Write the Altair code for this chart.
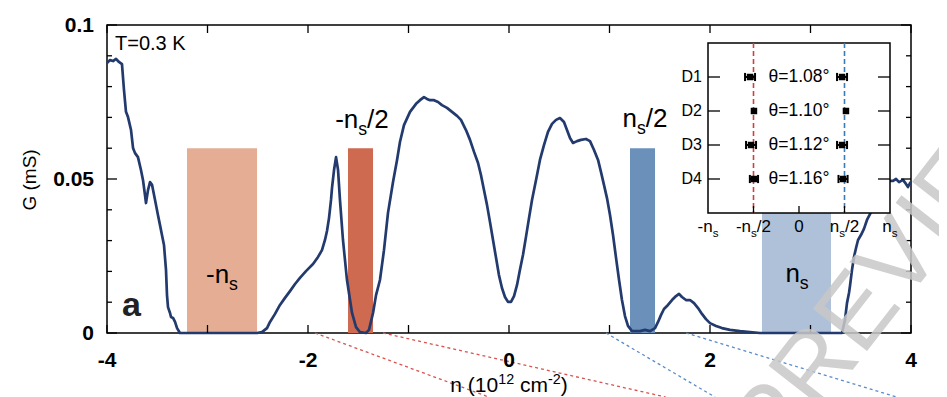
import altair as alt
import pandas as pd

FONT = "Liberation Sans"
NAVY = "#233A6E"

# ---------------- main trace G(n), three stretches ----------------
n_left = [-4.000, -3.970, -3.940, -3.910, -3.881, -3.851, -3.831, -3.811, -3.791, -3.761,
          -3.741, -3.721, -3.692, -3.662, -3.642, -3.622, -3.612, -3.592, -3.572, -3.552,
          -3.522, -3.493, -3.473, -3.453, -3.433, -3.413, -3.403, -3.393, -3.373, -3.363,
          -3.343, -3.323, -3.303, -3.274]
g_left = [0.0877, 0.0886, 0.0883, 0.0890, 0.0880, 0.0873, 0.0789, 0.0718, 0.0701, 0.0659,
          0.0601, 0.0584, 0.0571, 0.0529, 0.0497, 0.0448, 0.0422, 0.0464, 0.0490, 0.0481,
          0.0432, 0.0383, 0.0351, 0.0318, 0.0286, 0.0205, 0.0123, 0.0084, 0.0065, 0.0052,
          0.0049, 0.0036, 0.0016, 0.0]
n_mid = [-2.507, -2.458, -2.408, -2.378, -2.328, -2.279, -2.229, -2.179, -2.129, -2.080,
         -2.020, -1.950, -1.900, -1.861, -1.831, -1.811, -1.791, -1.771, -1.761, -1.741,
         -1.721, -1.701, -1.682, -1.652, -1.612, -1.562, -1.522, -1.483, -1.423, -1.393,
         -1.353, -1.323, -1.284, -1.244, -1.204, -1.154, -1.114, -1.085, -1.045, -0.985,
         -0.925, -0.886, -0.846, -0.816, -0.786, -0.746, -0.706, -0.667, -0.617, -0.567,
         -0.517, -0.478, -0.428, -0.388, -0.348, -0.308, -0.279, -0.249, -0.219, -0.189,
         -0.159, -0.129, -0.100, -0.070, -0.040, -0.010, 0.020, 0.050, 0.080, 0.109,
         0.139, 0.169, 0.199, 0.229, 0.269, 0.308, 0.348, 0.388, 0.428, 0.468,
         0.507, 0.547, 0.577, 0.607, 0.637, 0.677, 0.716, 0.766, 0.806, 0.846,
         0.886, 0.915, 0.945, 0.975, 1.005, 1.035, 1.065, 1.095, 1.124, 1.154,
         1.184, 1.224, 1.303, 1.353, 1.403, 1.453, 1.483, 1.512, 1.542, 1.582,
         1.622, 1.662, 1.692, 1.721, 1.761, 1.801, 1.841, 1.881, 1.920, 1.960,
         2.000, 2.060, 2.119, 2.199, 2.299, 2.398, 2.498]
g_mid = [0.0, 0.0003, 0.0016, 0.0036, 0.0062, 0.0091, 0.0114, 0.0136, 0.0159, 0.0179,
         0.0201, 0.0224, 0.0247, 0.0269, 0.0302, 0.0331, 0.0373, 0.0432, 0.0471, 0.0529,
         0.0571, 0.0529, 0.0432, 0.0302, 0.0172, 0.0065, 0.0019, 0.0003, 0.0, 0.0010,
         0.0065, 0.0123, 0.0172, 0.0269, 0.0390, 0.0490, 0.0562, 0.0620, 0.0675, 0.0718,
         0.0744, 0.0756, 0.0766, 0.0760, 0.0756, 0.0756, 0.0750, 0.0740, 0.0731, 0.0718,
         0.0705, 0.0692, 0.0659, 0.0627, 0.0588, 0.0552, 0.0513, 0.0464, 0.0416, 0.0360,
         0.0302, 0.0244, 0.0188, 0.0146, 0.0117, 0.0101, 0.0101, 0.0120, 0.0156, 0.0205,
         0.0253, 0.0312, 0.0373, 0.0432, 0.0497, 0.0562, 0.0610, 0.0653, 0.0679, 0.0692,
         0.0698, 0.0685, 0.0659, 0.0633, 0.0617, 0.0623, 0.0627, 0.0630, 0.0623, 0.0594,
         0.0562, 0.0523, 0.0481, 0.0438, 0.0383, 0.0318, 0.0244, 0.0172, 0.0107, 0.0055,
         0.0023, 0.0006, 0.0006, 0.0010, 0.0006, 0.0016, 0.0036, 0.0058, 0.0078, 0.0091,
         0.0107, 0.0120, 0.0127, 0.0117, 0.0107, 0.0107, 0.0097, 0.0081, 0.0062, 0.0045,
         0.0032, 0.0023, 0.0016, 0.0010, 0.0006, 0.0003, 0.0]
n_right = [3.313, 3.343, 3.363, 3.383, 3.393, 3.413, 3.433, 3.453, 3.473, 3.502,
           3.532, 3.562, 3.592, 3.622, 3.662, 3.701, 3.741, 3.781, 3.821, 3.851,
           3.881, 3.920, 3.950, 3.970, 3.990, 4.000]
g_right = [0.0, 0.0042, 0.0097, 0.0130, 0.0153, 0.0205, 0.0247, 0.0276, 0.0302, 0.0318,
           0.0338, 0.0367, 0.0386, 0.0406, 0.0432, 0.0458, 0.0477, 0.0494, 0.0494, 0.0500,
           0.0490, 0.0497, 0.0484, 0.0474, 0.0487, 0.0490]

# ---------------- shaded density windows ----------------
bar_start = [-3.204, -1.602, 1.204, 2.517]
bar_end = [-2.507, -1.353, 1.453, 3.204]
bar_top = [0.06, 0.06, 0.06, 0.06]
bar_color = ["#E5AE94", "#CD6A4F", "#6B91BB", "#AFC1D9"]

# labels of the windows: (text, kind) pieces
lab_parts = [[("-n", "n"), ("s", "sub")],
             [("-n", "n"), ("s", "sub"), ("/2", "n")],
             [("n", "n"), ("s", "sub"), ("/2", "n")],
             [("n", "n"), ("s", "sub")]]
lab_n = [-2.856, -1.463, 1.353, 2.866]
lab_g = [0.0162, 0.0666, 0.0670, 0.0166]

# dotted guide lines leaving the bottom axis
guide_n0 = [-1.93, -1.254, 0.965, 1.761]
guide_n1 = [-0.20, 1.56, 2.05, 3.86]
guide_g0 = [0.0, 0.0, 0.0, 0.0]
guide_g1 = [-0.0208, -0.0208, -0.0208, -0.0208]
guide_color = ["#D9534F", "#D9534F", "#5B8CC7", "#5B8CC7"]

# axis ticks and labels
x_ticks = [-4, -3, -2, -1, 0, 1, 2, 3, 4]
x_labels = [-4, -2, 0, 2, 4]
x_label_text = ["-4", "-2", "0", "2", "4"]
y_ticks = [0.0, 0.01, 0.02, 0.03, 0.04, 0.05, 0.06, 0.07, 0.08, 0.09, 0.1]
y_labels = [0.0, 0.05, 0.1]
y_label_text = ["0", "0.05", "0.1"]

# ---------------- inset ----------------
dev_names = ["D1", "D2", "D3", "D4"]
dev_pos = [1, 2, 3, 4]
dev_theta = ["θ=1.08°", "θ=1.10°", "θ=1.12°", "θ=1.16°"]
left_u = [-0.538, -0.495, -0.527, -0.495]
left_err = [0.055, 0.0, 0.055, 0.045]
right_u = [0.473, 0.516, 0.473, 0.484]
right_err = [0.055, 0.0, 0.055, 0.050]
inset_tick_u = [-1.0, -0.5, 0.0, 0.5, 1.0]
inset_tick_parts = [[("-n", "n"), ("s", "sub")],
                    [("-n", "n"), ("s", "sub"), ("/2", "n")],
                    [("0", "n")],
                    [("n", "n"), ("s", "sub"), ("/2", "n")],
                    [("n", "n"), ("s", "sub")]]

# ---------------- scales / helpers ----------------
W, H = 804, 308
PXN = 8.0 / W      # data n per pixel
PXG = 0.1 / H      # data G per pixel
SX = alt.Scale(domain=[-4, 4], nice=False, zero=False)
SY = alt.Scale(domain=[0, 0.1], nice=False, zero=False)
SU = alt.Scale(domain=[-1, 1], range=[601, 783], nice=False, zero=False)
SD = alt.Scale(domain=[0, 5], range=[18, 188], nice=False, zero=False)


def mx(f):
    return alt.X(f"{f}:Q", scale=SX, axis=None)


def my(f):
    return alt.Y(f"{f}:Q", scale=SY, axis=None)


def ux(f):
    return alt.X(f"{f}:Q", scale=SU, axis=None)


def uy(f):
    return alt.Y(f"{f}:Q", scale=SD, axis=None)


CW = {"-": 0.333, "n": 0.556, "s": 0.5, "/": 0.278, "2": 0.556, "0": 0.556, "1": 0.556,
      "(": 0.333, ")": 0.333, " ": 0.278, "c": 0.5, "m": 0.833}


def rich(parts, xv, yv, size, ex, ey, align="center", dy0=0.0):
    items = []
    for t, k in parts:
        s = size if k == "n" else round(size * 0.68, 1)
        lead = len(t) - len(t.lstrip(" "))
        body = t.lstrip(" ")
        items.append((body, k, s, lead * CW[" "] * s, sum(CW.get(c, 0.556) for c in body) * s))
    total = sum(i[3] + i[4] for i in items)
    x = -total / 2 if align == "center" else 0.0
    out = []
    for t, k, s, pre, w in items:
        x += pre
        dy = dy0 + (0.27 * size if k == "sub" else (-0.40 * size if k == "sup" else 0.0))
        df = pd.DataFrame({"a": [xv], "b": [yv], "txt": [t]})
        out.append(alt.Chart(df).mark_text(align="left", baseline="alphabetic", dx=x, dy=dy,
                                           fontSize=s, font=FONT, color="black")
                   .encode(x=ex("a"), y=ey("b"), text="txt:N"))
        x += w
    return out


# ---------------- main layers ----------------
curve_df = pd.DataFrame({"n": n_left + n_mid + n_right, "G": g_left + g_mid + g_right})
bars_df = pd.DataFrame({"n0": bar_start, "n1": bar_end, "g0": [0.0] * 4, "g1": bar_top, "c": bar_color})
guide_df = pd.DataFrame({"n0": guide_n0, "n1": guide_n1, "g0": guide_g0, "g1": guide_g1, "c": guide_color})

tick_rows = []
for v in x_ticks:
    tick_rows.append((v, 0.0, v, 8 * PXG))
    tick_rows.append((v, 0.1, v, 0.1 - 8 * PXG))
for v in y_ticks:
    L = 10 if round(v * 100) % 5 == 0 else 5
    tick_rows.append((-4, v, -4 + L * PXN, v))
    tick_rows.append((4, v, 4 - L * PXN, v))
ticks_df = pd.DataFrame(tick_rows, columns=["n0", "g0", "n1", "g1"])

bars = alt.Chart(bars_df).mark_rect().encode(
    x=mx("n0"), x2="n1", y=my("g0"), y2="g1", color=alt.Color("c:N", scale=None))
guides = alt.Chart(guide_df).mark_rule(strokeDash=[3, 3], strokeWidth=1.3).encode(
    x=mx("n0"), x2="n1", y=my("g0"), y2="g1", color=alt.Color("c:N", scale=None))
ticks = alt.Chart(ticks_df).mark_rule(color="black", strokeWidth=1.3).encode(
    x=mx("n0"), x2="n1", y=my("g0"), y2="g1")
curve = alt.Chart(curve_df).mark_line(color=NAVY, strokeWidth=2.7, strokeJoin="round").encode(
    x=mx("n"), y=my("G"))

xlab_df = pd.DataFrame({"n": x_labels, "G": [0.0] * len(x_labels), "t": x_label_text})
xlabs = alt.Chart(xlab_df).mark_text(align="center", baseline="top", dy=17, fontSize=21,
                                     fontWeight="bold", font=FONT, color="black").encode(
    x=mx("n"), y=my("G"), text="t:N")
ylab_df = pd.DataFrame({"n": [-4.0] * len(y_labels), "G": y_labels, "t": y_label_text})
ylabs = alt.Chart(ylab_df).mark_text(align="right", baseline="middle", dx=-13, dy=1, fontSize=21,
                                     fontWeight="bold", font=FONT, color="black").encode(
    x=mx("n"), y=my("G"), text="t:N")

temp = alt.Chart(pd.DataFrame({"n": [-3.92], "G": [0.0919], "t": ["T=0.3 K"]})).mark_text(
    align="left", baseline="alphabetic", fontSize=20, font=FONT, color="black").encode(
    x=mx("n"), y=my("G"), text="t:N")
panel = alt.Chart(pd.DataFrame({"n": [-3.85], "G": [0.0055], "t": ["a"]})).mark_text(
    align="left", baseline="alphabetic", fontSize=34, fontWeight="bold", font=FONT, color="#222").encode(
    x=mx("n"), y=my("G"), text="t:N")
ytitle = alt.Chart(pd.DataFrame({"n": [-4.766], "G": [0.0497], "t": ["G (mS)"]})).mark_text(
    align="center", baseline="middle", angle=270, fontSize=19, font=FONT, color="black").encode(
    x=mx("n"), y=my("G"), text="t:N")

main_layers = [bars, guides, curve, ticks, xlabs, ylabs, temp, panel, ytitle]
for parts, nv, gv in zip(lab_parts, lab_n, lab_g):
    main_layers += rich(parts, nv, gv, 26, mx, my)
main_layers += rich([("n (10", "n"), ("12", "sup"), (" cm", "n"), ("-2", "sup"), (")", "n")],
                    0.0, -0.0193, 21, mx, my)
main = alt.layer(*main_layers)

# ---------------- inset layers ----------------
frame = alt.Chart(pd.DataFrame({"u0": [-1.0], "u1": [1.0], "d0": [0.0], "d1": [5.0]})).mark_rect(
    fill="white", stroke="black", strokeWidth=1.5).encode(x=ux("u0"), x2="u1", y=uy("d0"), y2="d1")
dash_df = pd.DataFrame({"u": [-0.5, 0.5], "d0": [0.0, 0.0], "d1": [5.0, 5.0], "c": ["#D0403A", "#3A7CB8"]})
dashes = alt.Chart(dash_df).mark_rule(strokeDash=[5, 3], strokeWidth=1.6).encode(
    x=ux("u"), y=uy("d0"), y2="d1", color=alt.Color("c:N", scale=None))

itick_rows = []
for d in dev_pos:
    itick_rows.append((-1.0, d, -1.0 + 12 / 91.0, d))
    itick_rows.append((1.0, d, 1.0 - 12 / 91.0, d))
for u in [-0.5, 0.0, 0.5]:
    itick_rows.append((u, 5.0, u, 5.0 - 7 / 34.0))
itick_df = pd.DataFrame(itick_rows, columns=["u0", "d0", "u1", "d1"])
iticks = alt.Chart(itick_df).mark_rule(color="black", strokeWidth=1.3).encode(
    x=ux("u0"), x2="u1", y=uy("d0"), y2="d1")

pts = pd.DataFrame({"u": left_u + right_u, "e": left_err + right_err, "d": dev_pos + dev_pos})
pts["lo"] = pts["u"] - pts["e"]
pts["hi"] = pts["u"] + pts["e"]
pts["dlo"] = pts["d"] - 0.12
pts["dhi"] = pts["d"] + 0.12
err = pts[pts["e"] > 0]
ebar = alt.Chart(err).mark_rule(color="black", strokeWidth=2).encode(x=ux("lo"), x2="hi", y=uy("d"))
capl = alt.Chart(err).mark_rule(color="black", strokeWidth=2).encode(x=ux("lo"), y=uy("dlo"), y2="dhi")
caph = alt.Chart(err).mark_rule(color="black", strokeWidth=2).encode(x=ux("hi"), y=uy("dlo"), y2="dhi")
squares = alt.Chart(pts).mark_square(size=42, color="black", opacity=1).encode(x=ux("u"), y=uy("d"))

dev_df = pd.DataFrame({"u": [0.0] * 4, "uL": [-1.0] * 4, "d": dev_pos, "name": dev_names, "th": dev_theta})
theta_txt = alt.Chart(dev_df).mark_text(fontSize=17.5, font=FONT, color="black", baseline="middle").encode(
    x=ux("u"), y=uy("d"), text="th:N")
dev_txt = alt.Chart(dev_df).mark_text(fontSize=16, font=FONT, color="black", align="right",
                                      baseline="middle", dx=-6).encode(x=ux("uL"), y=uy("d"), text="name:N")

inset_layers = [frame, dashes, iticks, ebar, capl, caph, squares, theta_txt, dev_txt]
for parts, u in zip(inset_tick_parts, inset_tick_u):
    inset_layers += rich(parts, u, 5.0, 17, ux, uy, dy0=19)
inset = alt.layer(*inset_layers)

# ---------------- watermark ----------------
wm = alt.Chart(pd.DataFrame({"n": [3.84], "G": [0.0215], "t": ["PREVIEW"]})).mark_text(
    align="center", baseline="middle", angle=308, fontSize=100, font=FONT, color="#C8C8C8",
    opacity=0.85).encode(x=mx("n"), y=my("G"), text="t:N")

chart = alt.layer(main, wm, inset).resolve_scale(x="independent", y="independent").properties(
    width=W, height=H,
    autosize=alt.AutoSizeParams(type="none"),
    padding={"left": 99, "top": 17, "right": 28, "bottom": 64},
).configure_view(stroke="black", strokeWidth=1.5)

chart.save("out.html", embed_options={"renderer": "svg", "actions": False})
